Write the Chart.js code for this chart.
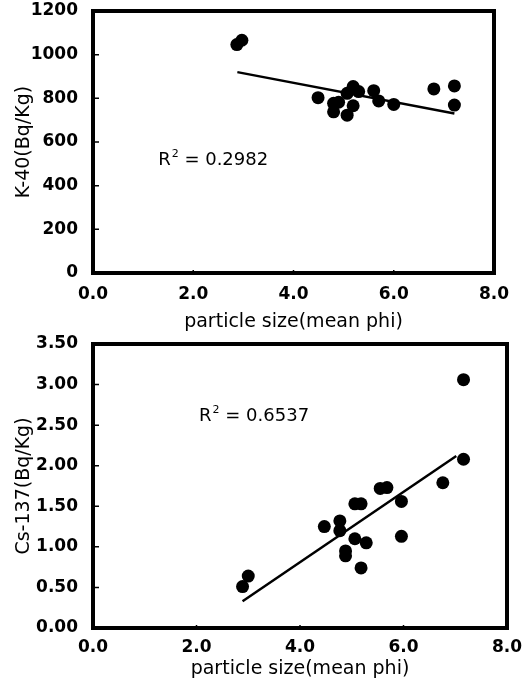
<!DOCTYPE html>
<html>
<head>
<meta charset="utf-8">
<script src="https://cdn.jsdelivr.net/npm/chart.js@4.4.1/dist/chart.umd.min.js"></script>
<style>
  html, body { margin: 0; padding: 0; background: #fff; }
  #wrap { position: relative; width: 522px; height: 687px; }
  canvas { position: absolute; left: 0; }
</style>
</head>
<body>
<div id="wrap">
  <canvas id="k40-chart" width="522" height="334" style="top:0px"></canvas>
  <canvas id="cs137-chart" width="522" height="353" style="top:334px"></canvas>
</div>
<script>
// données
const phiTicks = [0, 2, 4, 6, 8];

const k40Phi = [2.87, 2.97, 4.49, 4.80, 4.90, 4.80, 5.07, 5.19, 5.07, 5.19, 5.30, 5.60, 5.70, 6.00, 6.80, 7.21, 7.21];
const k40Val = [1046, 1066, 803, 777, 782, 738, 723, 766, 823, 854, 831, 835, 788, 772, 843, 857, 769];
const k40FitPhi = [2.88, 7.21];
const k40FitVal = [920, 731];
const k40R2 = "0.2982";
const k40R2At = [1.30, 516];

const csPhi = [2.89, 3.00, 4.47, 4.77, 4.77, 4.88, 4.88, 5.06, 5.18, 5.06, 5.28, 5.18, 5.55, 5.68, 5.96, 5.96, 6.76, 7.16, 7.16];
const csVal = [0.51, 0.64, 1.25, 1.32, 1.20, 0.95, 0.89, 1.53, 1.53, 1.10, 1.05, 0.74, 1.72, 1.73, 1.56, 1.13, 1.79, 2.08, 3.06];
const csFitPhi = [2.89, 7.02];
const csFitVal = [0.33, 2.12];
const csR2 = "0.6537";
const csR2At = [2.05, 2.61];

const FONT = "DejaVu Sans";

// cadre épais, petites graduations intérieures et texte R²
const framePlugin = {
  id: "frame",
  afterDatasetsDraw(chart, args, opts) {
    const { ctx, chartArea: a, scales } = chart;
    ctx.save();
    ctx.strokeStyle = "#000";
    ctx.lineWidth = 1.5;
    ctx.beginPath();
    scales.y.ticks.forEach((t) => {
      const p = scales.y.getPixelForValue(t.value);
      ctx.moveTo(a.left, p);
      ctx.lineTo(a.left + 6, p);
    });
    scales.x.ticks.forEach((t) => {
      const p = scales.x.getPixelForValue(t.value);
      ctx.moveTo(p, a.bottom);
      ctx.lineTo(p, a.bottom - 3);
    });
    ctx.stroke();
    ctx.lineWidth = 4;
    ctx.strokeRect(a.left, a.top, a.right - a.left, a.bottom - a.top);

    const px = scales.x.getPixelForValue(opts.at[0]);
    const py = scales.y.getPixelForValue(opts.at[1]);
    ctx.fillStyle = "#000";
    ctx.textAlign = "left";
    ctx.textBaseline = "middle";
    ctx.font = `18px "${FONT}"`;
    ctx.fillText("R", px, py);
    let w = ctx.measureText("R").width + 1;
    ctx.font = `11px "${FONT}"`;
    ctx.fillText("2", px + w, py - 6);
    w += ctx.measureText("2").width;
    ctx.font = `18px "${FONT}"`;
    ctx.fillText(" = " + opts.text, px + w, py);
    ctx.restore();
  },
};

function toPoints(xs, ys) {
  return xs.map((x, i) => ({ x: x, y: ys[i] }));
}

function makeChart(id, cfg) {
  const canvas = document.getElementById(id);
  return new Chart(canvas.getContext("2d"), {
    type: "scatter",
    data: {
      datasets: [
        {
          data: toPoints(cfg.phi, cfg.val),
          pointRadius: 6.5,
          pointHoverRadius: 6.5,
          backgroundColor: "#000",
          borderWidth: 0,
        },
        {
          data: toPoints(cfg.fitPhi, cfg.fitVal),
          showLine: true,
          borderColor: "#000",
          borderWidth: 2.5,
          pointRadius: 0,
          fill: false,
        },
      ],
    },
    options: {
      responsive: false,
      animation: false,
      events: [],
      layout: { padding: { top: cfg.top, right: cfg.right, left: 0, bottom: 0 } },
      plugins: {
        legend: { display: false },
        tooltip: { enabled: false },
        frame: { at: cfg.r2At, text: cfg.r2 },
      },
      scales: {
        x: {
          type: "linear",
          min: 0,
          max: 8,
          afterBuildTicks: (s) => { s.ticks = phiTicks.map((v) => ({ value: v })); },
          grid: { display: false, drawTicks: false },
          border: { display: false },
          ticks: {
            padding: cfg.xPad,
            color: "#000",
            maxRotation: 0,
            autoSkip: false,
            font: { family: FONT, size: 17, weight: "bold" },
            callback: (v) => Number(v).toFixed(1),
          },
          title: {
            display: true,
            text: "particle size(mean phi)",
            color: "#000",
            font: { family: FONT, size: 19 },
            padding: { top: 0, bottom: cfg.titlePad },
          },
          afterFit(s) {
            s.height = cfg.xHeight;
            s.paddingLeft = 0;
            s.paddingRight = 0;
          },
        },
        y: {
          type: "linear",
          min: cfg.yMin,
          max: cfg.yMax,
          grid: { display: false, drawTicks: false },
          border: { display: false },
          ticks: {
            stepSize: cfg.yStep,
            padding: 15,
            color: "#000",
            font: { family: FONT, size: 17, weight: "bold" },
            callback: cfg.yFmt,
          },
          title: {
            display: true,
            text: cfg.yTitle,
            color: "#000",
            font: { family: FONT, size: 19 },
            padding: { top: 13, bottom: 0 },
          },
          afterFit(s) {
            s.width = 93;
            s.paddingTop = 0;
            s.paddingBottom = 0;
          },
        },
      },
    },
    plugins: [framePlugin],
  });
}

makeChart("k40-chart", {
  phi: k40Phi, val: k40Val, fitPhi: k40FitPhi, fitVal: k40FitVal,
  r2: k40R2, r2At: k40R2At,
  yMin: 0, yMax: 1200, yStep: 200, yFmt: (v) => String(v),
  yTitle: "K-40(Bq/Kg)",
  top: 11, right: 28, xHeight: 61, xPad: 11, titlePad: 1,
});

makeChart("cs137-chart", {
  phi: csPhi, val: csVal, fitPhi: csFitPhi, fitVal: csFitVal,
  r2: csR2, r2At: csR2At,
  yMin: 0, yMax: 3.5, yStep: 0.5, yFmt: (v) => Number(v).toFixed(2),
  yTitle: "Cs-137(Bq/Kg)",
  top: 10, right: 15, xHeight: 59, xPad: 9, titlePad: 7,
});
</script>
</body>
</html>
